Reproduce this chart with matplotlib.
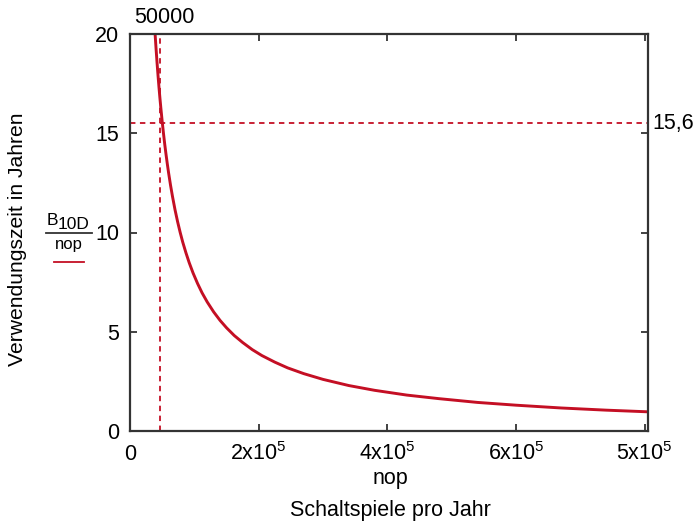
import matplotlib
matplotlib.use("Agg")
import matplotlib.pyplot as plt
from matplotlib.lines import Line2D

plt.rcParams['font.family'] = ['Liberation Sans', 'DejaVu Sans']
plt.rcParams['mathtext.fontset'] = 'custom'
plt.rcParams['mathtext.rm'] = 'Liberation Sans'
plt.rcParams['mathtext.it'] = 'Liberation Sans:italic'

# Verwendungszeit = B10D / nop
nop = [39000, 40500, 42000, 43500, 45000, 46500, 48000, 50000, 52000, 54000,
       56000, 58000, 60000, 63000, 66000, 70000, 74000, 78000, 82000, 87000,
       92000, 98000, 105000, 112000, 120000, 130000, 140000, 150000, 162000,
       175000, 190000, 205000, 225000, 245000, 270000, 300000, 340000, 380000,
       430000, 480000, 540000, 600000, 670000, 740000, 810000]
years = [20.0, 19.26, 18.57, 17.93, 17.33, 16.77, 16.25, 15.6, 15.0, 14.44,
         13.93, 13.45, 13.0, 12.38, 11.82, 11.14, 10.54, 10.0, 9.51, 8.97,
         8.48, 7.96, 7.43, 6.96, 6.5, 6.0, 5.57, 5.2, 4.81,
         4.46, 4.1, 3.8, 3.47, 3.18, 2.89, 2.6, 2.29, 2.05,
         1.81, 1.63, 1.44, 1.3, 1.16, 1.05, 0.96]

x_ticks = [0, 200000, 400000, 600000, 800000]
x_ticklabels = ['0', '2x10$^{5}$', '4x10$^{5}$', '6x10$^{5}$', '5x10$^{5}$']
y_ticks = [0, 5, 10, 15, 20]

nop_mark = 47000      # position of vertical dashed line
nop_mark_label = '50000'
years_mark = 15.5     # position of horizontal dashed line
years_mark_label = '15,6'

red = '#c40f24'
dark = '#333333'
fs = 15.5

fig = plt.figure(figsize=(6.94, 5.24), dpi=100)
ax = fig.add_axes([130 / 694, 1 - 431 / 524, 518 / 694, 397 / 524])

ax.plot(nop, years, color=red, lw=2.1, solid_capstyle='butt')
ax.axvline(nop_mark, color=red, lw=1.3, ls=(0, (3, 2.5)))
ax.axhline(years_mark, color=red, lw=1.3, ls=(0, (3, 2.5)))

ax.set_xlim(0, 805000)
ax.set_ylim(0, 20)
ax.set_xticks(x_ticks)
ax.set_xticklabels(x_ticklabels)
ax.set_yticks(y_ticks)
ax.tick_params(direction='in', length=5, width=1.3, color=dark,
               top=True, right=True, labelsize=fs)
ax.tick_params(axis='y', pad=8)
# put all x labels on a common baseline (29 px below the axis)
ax.tick_params(axis='x', pad=29 * 72 / 100)
for lab in ax.get_xticklabels():
    lab.set_verticalalignment('baseline')
for s in ax.spines.values():
    s.set_color(dark)
    s.set_linewidth(1.6)

# labels for the dashed lines
ax.text(nop_mark + 6000, 1.015, nop_mark_label, transform=ax.get_xaxis_transform(),
        ha='center', va='bottom', fontsize=fs)
ax.text(1.008, years_mark, years_mark_label, transform=ax.get_yaxis_transform(),
        ha='left', va='center', fontsize=fs)

fig.text(390 / 694, 1 - 484 / 524, 'nop', ha='center', va='baseline', fontsize=fs)
fig.text(390 / 694, 1 - 516 / 524, 'Schaltspiele pro Jahr', ha='center', va='baseline',
         fontsize=fs)
fig.text(18 / 694, 1 - 239 / 524, 'Verwendungszeit in Jahren', rotation=90,
         ha='center', va='center', fontsize=15.2)

# legend-like fraction on the left
fig.text(47 / 694, 1 - 225 / 524, 'B', ha='left', va='baseline', fontsize=12.5)
fig.text(58 / 694, 1 - 229 / 524, '10D', ha='left', va='baseline', fontsize=12.5)
fig.add_artist(Line2D([46 / 694, 92 / 694], [1 - 233 / 524, 1 - 233 / 524],
                      color=dark, lw=1.3, transform=fig.transFigure))
fig.text(69 / 694, 1 - 249 / 524, 'nop', ha='center', va='baseline', fontsize=12)
fig.add_artist(Line2D([54 / 694, 84 / 694], [1 - 262 / 524, 1 - 262 / 524],
                      color=red, lw=1.3, transform=fig.transFigure))

fig.savefig('out.png', dpi=100)
